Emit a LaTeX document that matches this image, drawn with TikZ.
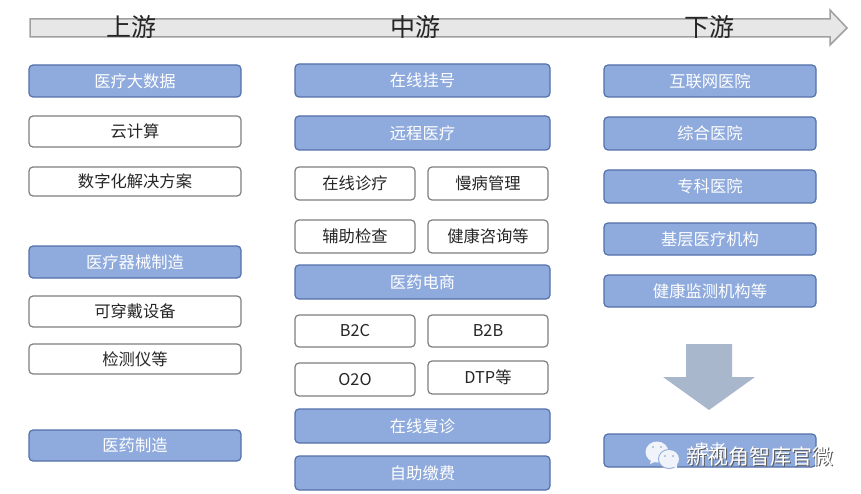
\documentclass[tikz,border=0pt]{standalone}
\usepackage{fontspec}
\setmainfont{Noto Sans CJK SC}
\definecolor{bluefill}{HTML}{8FAADC}
\definecolor{blueline}{HTML}{5470AA}
\definecolor{greyline}{HTML}{7F7F7F}
\definecolor{bandfill}{HTML}{E7E7E7}
\definecolor{bandline}{HTML}{A0A0A0}
\definecolor{downfill}{HTML}{A9B7CC}
\definecolor{chat}{HTML}{F0F3FA}
\definecolor{chatdot}{HTML}{A9B7CC}
\tikzset{
  x=1pt,y=-1pt,
  boxbase/.style={rounded corners=4pt,line width=1.2pt,inner sep=0pt,font=\fontsize{16.3}{16.3}\selectfont},
  bluebox/.style={boxbase,draw=blueline,fill=bluefill,text=white},
  whitebox/.style={boxbase,draw=greyline,fill=white,text=black!85},
  leftw/.style={minimum width=212pt},
  midw/.style={minimum width=255pt},
  halfw/.style={minimum width=120pt},
  rightw/.style={minimum width=212pt},
  hh/.style={minimum height=#1 pt},
  stage/.style={inner sep=0pt,font=\fontsize{25}{25}\selectfont,text=black!85},
  mark text/.style={inner sep=0pt,font=\fontsize{21}{21}\selectfont},
}
\begin{document}
\begin{tikzpicture}
\useasboundingbox (0,0) rectangle (861,494);
\fill[white] (0,0) rectangle (861,494);
% top band arrow
\draw[bandline,fill=bandfill,line width=1.5pt,line join=miter]
  (30,19) -- (830,19) -- (830,10) -- (847,28) -- (830,45) -- (830,37) -- (30,37) -- cycle;
\node[stage] (up) at (131,27) {上游};
\node[stage] (mid) at (415,27) {中游};
\node[stage] (down) at (709,27) {下游};
% left column
\node[bluebox,leftw,hh=32] (a1) at (135,81) {医疗大数据};
\node[whitebox,leftw,hh=31] (a2) at (135,131.5) {云计算};
\node[whitebox,leftw,hh=29] (a3) at (135,181.5) {数字化解决方案};
\node[bluebox,leftw,hh=32] (a4) at (135,262) {医疗器械制造};
\node[whitebox,leftw,hh=31] (a5) at (135,311.5) {可穿戴设备};
\node[whitebox,leftw,hh=30] (a6) at (135,359) {检测仪等};
\node[bluebox,leftw,hh=31] (a7) at (135,445.5) {医药制造};
% middle column
\node[bluebox,midw,hh=33] (b1) at (422.5,80.5) {在线挂号};
\node[bluebox,midw,hh=34] (b2) at (422.5,133) {远程医疗};
\node[whitebox,halfw,hh=33] (c1) at (355,183.5) {在线诊疗};
\node[whitebox,halfw,hh=33] (c2) at (488,183.5) {慢病管理};
\node[whitebox,halfw,hh=33] (c3) at (355,236.5) {辅助检查};
\node[whitebox,halfw,hh=33] (c4) at (488,236.5) {健康咨询等};
\node[bluebox,midw,hh=34] (b3) at (422.5,282) {医药电商};
\node[whitebox,halfw,hh=32] (d1) at (355,331) {B2C};
\node[whitebox,halfw,hh=32] (d2) at (488,331) {B2B};
\node[whitebox,halfw,hh=33] (d3) at (355,379.5) {O2O};
\node[whitebox,halfw,hh=33] (d4) at (488,377.5) {DTP等};
\node[bluebox,midw,hh=34] (b4) at (422.5,426) {在线复诊};
\node[bluebox,midw,hh=34] (b5) at (422.5,473) {自助缴费};
% right column
\node[bluebox,rightw,hh=32] (e1) at (710,81) {互联网医院};
\node[bluebox,rightw,hh=33] (e2) at (710,133.5) {综合医院};
\node[bluebox,rightw,hh=33] (e3) at (710,186.5) {专科医院};
\node[bluebox,rightw,hh=32] (e4) at (710,239) {基层医疗机构};
\node[bluebox,rightw,hh=32] (e5) at (710,291) {健康监测机构等};
\node[bluebox,rightw,hh=33] (e6) at (710,450.5) {患者};
% down arrow
\fill[downfill] (686,344) -- (732,344) -- (732,377) -- (755,377) -- (709,410) -- (663,377) -- (686,377) -- cycle;
% watermark
\fill[chat] (657,452) ellipse [x radius=11.5,y radius=10.5];
\fill[chat] (651,460) -- (650,464) -- (657,461) -- cycle;
\fill[bluefill] (669,459) ellipse [x radius=11,y radius=10];
\fill[chat] (669,459) ellipse [x radius=10,y radius=9];
\fill[chat] (673,466) -- (677,470) -- (677,464) -- cycle;
\fill[chatdot] (653,447) circle (1.2) (661,447) circle (1.2) (665,456) circle (1.1) (673,456) circle (1.1);
\node[mark text,text=black!65] (wms) at (760.7,457.7) {新视角智库官微};
\node[mark text,text=white] (wm) at (760,457) {新视角智库官微};
\end{tikzpicture}
\end{document}
